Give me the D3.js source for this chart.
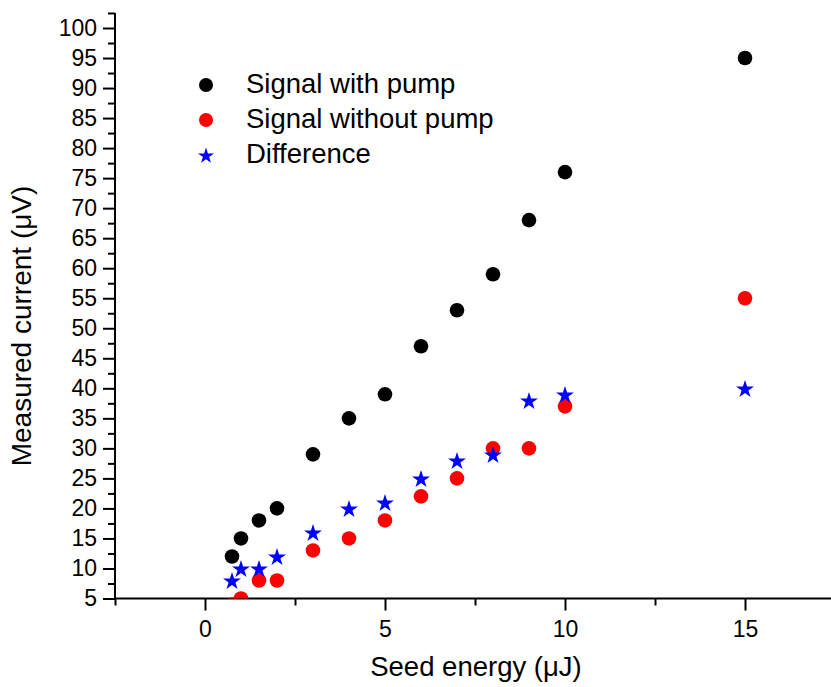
<!DOCTYPE html>
<html>
<head>
<meta charset="utf-8">
<script src="https://cdn.jsdelivr.net/npm/d3@7"></script>
<style>
  html, body { margin: 0; padding: 0; background: #fff; }
  svg { display: block; }
  text { font-family: "Liberation Sans", Arial, sans-serif; fill: #000; }
</style>
</head>
<body>
<svg id="chart" width="831" height="687"></svg>
<script>
// ---- Data ----
const seedEnergyWith    = [0.75, 1, 1.5, 2, 3, 4, 5, 6, 7, 8, 9, 10, 15];
const signalWithPump    = [12, 15, 18, 20, 29, 35, 39, 47, 53, 59, 68, 76, 95];
const seedEnergyWithout = [0.75, 1, 1.5, 2, 3, 4, 5, 6, 7, 8, 9, 10, 15];
const signalWithoutPump = [4, 5, 8, 8, 13, 15, 18, 22, 25, 30, 30, 37, 55];
const seedEnergyDiff    = [0.75, 1, 1.5, 2, 3, 4, 5, 6, 7, 8, 9, 10, 15];
const difference        = [8, 10, 10, 12, 16, 20, 21, 25, 28, 29, 38, 39, 40];

const xMajorTicks = [0, 5, 10, 15];
const xMinorTicks = [-2.5, 2.5, 7.5, 12.5, 17.5];
const yMajorTicks = d3.range(5, 101, 5);
const yMinorTicks = d3.range(7.5, 103, 5);

const seriesNames = ["Signal with pump", "Signal without pump", "Difference"];
const seriesColors = ["#000000", "#ff0000", "#0000ff"];

// ---- Layout ----
const svg = d3.select("#chart");
const x = d3.scaleLinear().domain([-2.5, 17.5]).range([115, 835]);
const y = d3.scaleLinear().domain([5, 100]).range([598.5, 28]);
const yTop = y(102.5);

const axisColor = "#000";

// clip
svg.append("defs").append("clipPath").attr("id", "plotclip")
  .append("rect").attr("x", x(-2.5)).attr("y", yTop)
  .attr("width", x(17.5) - x(-2.5)).attr("height", y(5) - yTop);

// ---- Axes ----
function styleAxis(g) {
  g.selectAll("path, line").attr("stroke", axisColor).attr("stroke-width", 2);
  g.selectAll("text").attr("font-family", "'Liberation Sans', Arial, sans-serif")
    .attr("font-size", 23).attr("fill", "#000");
}

// X minor
const gxMinor = svg.append("g").attr("transform", `translate(0,${y(5)})`)
  .call(d3.axisBottom(x).tickValues(xMinorTicks).tickSize(7).tickFormat(""));
gxMinor.select(".domain").remove();
styleAxis(gxMinor);
// X major
const gx = svg.append("g").attr("transform", `translate(0,${y(5)})`)
  .call(d3.axisBottom(x).tickValues(xMajorTicks).tickSize(12).tickSizeOuter(0).tickPadding(10).tickFormat(d3.format("d")));
styleAxis(gx);
gx.select(".domain").attr("d", `M${x(-2.5)},0H${x(17.5)}`);

// Y minor
const gyMinor = svg.append("g").attr("transform", `translate(${x(-2.5)},0)`)
  .call(d3.axisLeft(y).tickValues(yMinorTicks).tickSize(7).tickFormat(""));
gyMinor.select(".domain").remove();
styleAxis(gyMinor);
// Y major
const gy = svg.append("g").attr("transform", `translate(${x(-2.5)},0)`)
  .call(d3.axisLeft(y).tickValues(yMajorTicks).tickSize(12).tickSizeOuter(0).tickPadding(6).tickFormat(d3.format("d")));
styleAxis(gy);
gy.select(".domain").attr("d", `M0,${y(5)}V${yTop}`);

// ---- Titles ----
svg.append("text")
  .attr("x", 476).attr("y", 676)
  .attr("text-anchor", "middle")
  .attr("font-size", 27.5)
  .text("Seed energy (\u03bcJ)");

svg.append("text")
  .attr("transform", "translate(31,326) rotate(-90)")
  .attr("text-anchor", "middle")
  .attr("font-size", 28)
  .text("Measured current (\u03bcV)");

// ---- Data marks ----
const plot = svg.append("g").attr("clip-path", "url(#plotclip)");

const withData = seedEnergyWith.map((e, i) => ({e, v: signalWithPump[i]}));
const withoutData = seedEnergyWithout.map((e, i) => ({e, v: signalWithoutPump[i]}));
const diffData = seedEnergyDiff.map((e, i) => ({e, v: difference[i]}));

plot.selectAll(".pw").data(withData).join("circle")
  .attr("cx", d => x(d.e)).attr("cy", d => y(d.v)).attr("r", 7.3)
  .attr("fill", seriesColors[0]);

plot.selectAll(".pwo").data(withoutData).join("circle")
  .attr("cx", d => x(d.e)).attr("cy", d => y(d.v)).attr("r", 7.3)
  .attr("fill", seriesColors[1]);

const star = d3.symbol().type(d3.symbolStar).size(100);
plot.selectAll(".df").data(diffData).join("path")
  .attr("d", star)
  .attr("transform", d => `translate(${x(d.e)},${y(d.v) + 1})`)
  .attr("fill", seriesColors[2]);

// ---- Legend ----
const legend = svg.append("g");
const legY = [85, 120, 155];
seriesNames.forEach((name, i) => {
  if (i < 2) {
    legend.append("circle").attr("cx", 206).attr("cy", legY[i]).attr("r", 7)
      .attr("fill", seriesColors[i]);
  } else {
    legend.append("path").attr("d", d3.symbol().type(d3.symbolStar).size(80)())
      .attr("transform", `translate(206,${legY[i] + 1})`)
      .attr("fill", seriesColors[i]);
  }
  legend.append("text").attr("x", 246).attr("y", legY[i] + 7.5)
    .attr("font-size", 27.5).text(name);
});
</script>
</body>
</html>
